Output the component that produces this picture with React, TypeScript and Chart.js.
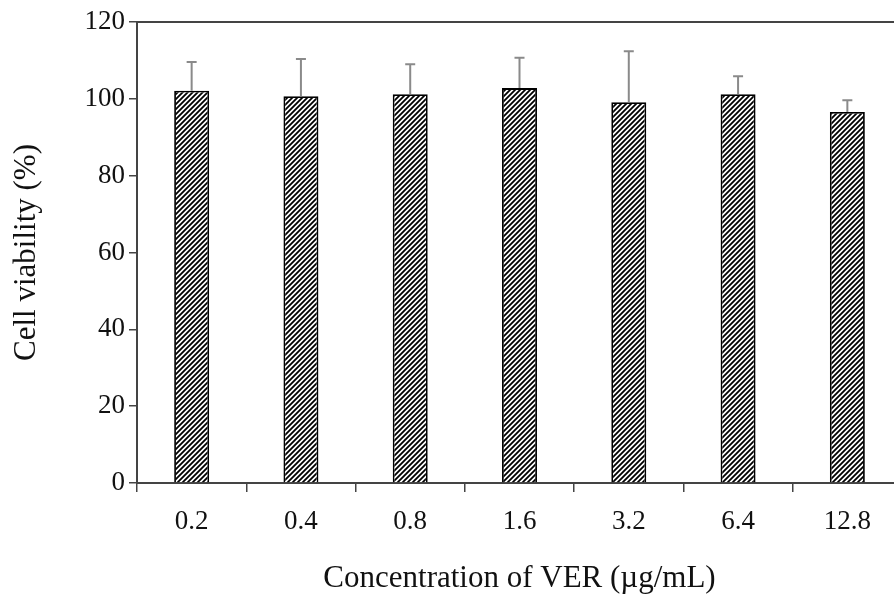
import React, { useEffect, useRef } from "react";
import { Chart, registerables } from "chart.js";

Chart.register(...registerables);

const categories = ["0.2", "0.4", "0.8", "1.6", "3.2", "6.4", "12.8"];
const viability = [102.1, 100.7, 101.2, 102.8, 99.1, 101.2, 96.6];
const errorUpper = [7.5, 9.7, 7.8, 7.9, 13.3, 4.7, 3.0];
const yMin = 0;
const yMax = 120;
const yStep = 20;

const FONT = "'Liberation Serif', 'Times New Roman', serif";

function makeHatch(): CanvasPattern | string {
  const s = 5;
  const c = document.createElement("canvas");
  c.width = s;
  c.height = s;
  const g = c.getContext("2d");
  if (!g) return "#777";
  g.fillStyle = "#ffffff";
  g.fillRect(0, 0, s, s);
  g.strokeStyle = "#000000";
  g.lineWidth = 1.8;
  g.beginPath();
  g.moveTo(-1, s + 1);
  g.lineTo(s + 1, -1);
  g.moveTo(-1, 1);
  g.lineTo(1, -1);
  g.moveTo(s - 1, s + 1);
  g.lineTo(s + 1, s - 1);
  g.stroke();
  const p = g.createPattern(c, "repeat");
  return p || "#777";
}

const errorBarPlugin = {
  id: "errorBars",
  afterDatasetsDraw(chart: any) {
    const meta = chart.getDatasetMeta(0);
    const yScale = chart.scales.y;
    const ctx = chart.ctx;
    ctx.save();
    ctx.strokeStyle = "#8a8a8a";
    ctx.lineWidth = 2;
    meta.data.forEach((bar: any, i: number) => {
      const v = viability[i];
      const e = errorUpper[i];
      const yTop = yScale.getPixelForValue(v);
      const yErr = yScale.getPixelForValue(v + e);
      ctx.beginPath();
      ctx.moveTo(bar.x, yTop);
      ctx.lineTo(bar.x, yErr);
      ctx.moveTo(bar.x - 5, yErr);
      ctx.lineTo(bar.x + 5, yErr);
      ctx.stroke();
    });
    ctx.restore();
  },
};

const topFramePlugin = {
  id: "topFrame",
  afterDraw(chart: any) {
    const { ctx, chartArea } = chart;
    ctx.save();
    ctx.strokeStyle = "#444444";
    ctx.lineWidth = 2;
    ctx.beginPath();
    ctx.moveTo(chartArea.left, chartArea.top);
    ctx.lineTo(chartArea.right + 20, chartArea.top);
    ctx.stroke();
    ctx.restore();
  },
};

export default function App() {
  const ref = useRef<HTMLCanvasElement | null>(null);

  useEffect(() => {
    if (!ref.current) return;
    const chart = new Chart(ref.current, {
      type: "bar",
      data: {
        labels: categories,
        datasets: [
          {
            data: viability,
            backgroundColor: makeHatch() as any,
            borderColor: "#000000",
            borderWidth: 1.8,
            barPercentage: 0.32,
            categoryPercentage: 1,
          },
        ],
      },
      plugins: [errorBarPlugin, topFramePlugin],
      options: {
        animation: false,
        responsive: false,
        devicePixelRatio: 1,
        layout: { padding: { top: 22, right: 8, left: 0, bottom: 0 } },
        plugins: {
          legend: { display: false },
          tooltip: { enabled: false },
        },
        scales: {
          x: {
            grid: {
              offset: true,
              drawOnChartArea: false,
              drawTicks: true,
              tickLength: 9,
              color: "#444444",
              lineWidth: 1.5,
            },
            border: { display: true, color: "#444444", width: 2 },
            ticks: {
              color: "#111111",
              font: { family: FONT, size: 27 },
              padding: 14,
              maxRotation: 0,
            },
            title: {
              display: true,
              text: "Concentration of VER (µg/mL)",
              color: "#111111",
              font: { family: FONT, size: 31 },
              padding: { top: 0, bottom: 6 },
            },
            afterFit(scale: any) {
              scale.height = 120;
            },
          },
          y: {
            min: yMin,
            max: yMax,
            ticks: {
              stepSize: yStep,
              color: "#111111",
              font: { family: FONT, size: 27 },
              padding: 4,
            },
            grid: {
              drawOnChartArea: false,
              drawTicks: true,
              tickLength: 8,
              color: "#444444",
              lineWidth: 1.5,
            },
            border: { display: true, color: "#444444", width: 2 },
            title: {
              display: true,
              text: "Cell viability (%)",
              color: "#111111",
              font: { family: FONT, size: 31 },
              padding: { top: 8, bottom: 0 },
            },
            afterFit(scale: any) {
              scale.width = 137;
            },
          },
        },
      },
    });
    return () => chart.destroy();
  }, []);

  return (
    <div
      style={{
        position: "fixed",
        left: 0,
        top: 0,
        width: 894,
        height: 603,
        overflow: "hidden",
        background: "#ffffff",
      }}
    >
      <canvas ref={ref} width={910} height={603} style={{ display: "block" }} />
    </div>
  );
}
